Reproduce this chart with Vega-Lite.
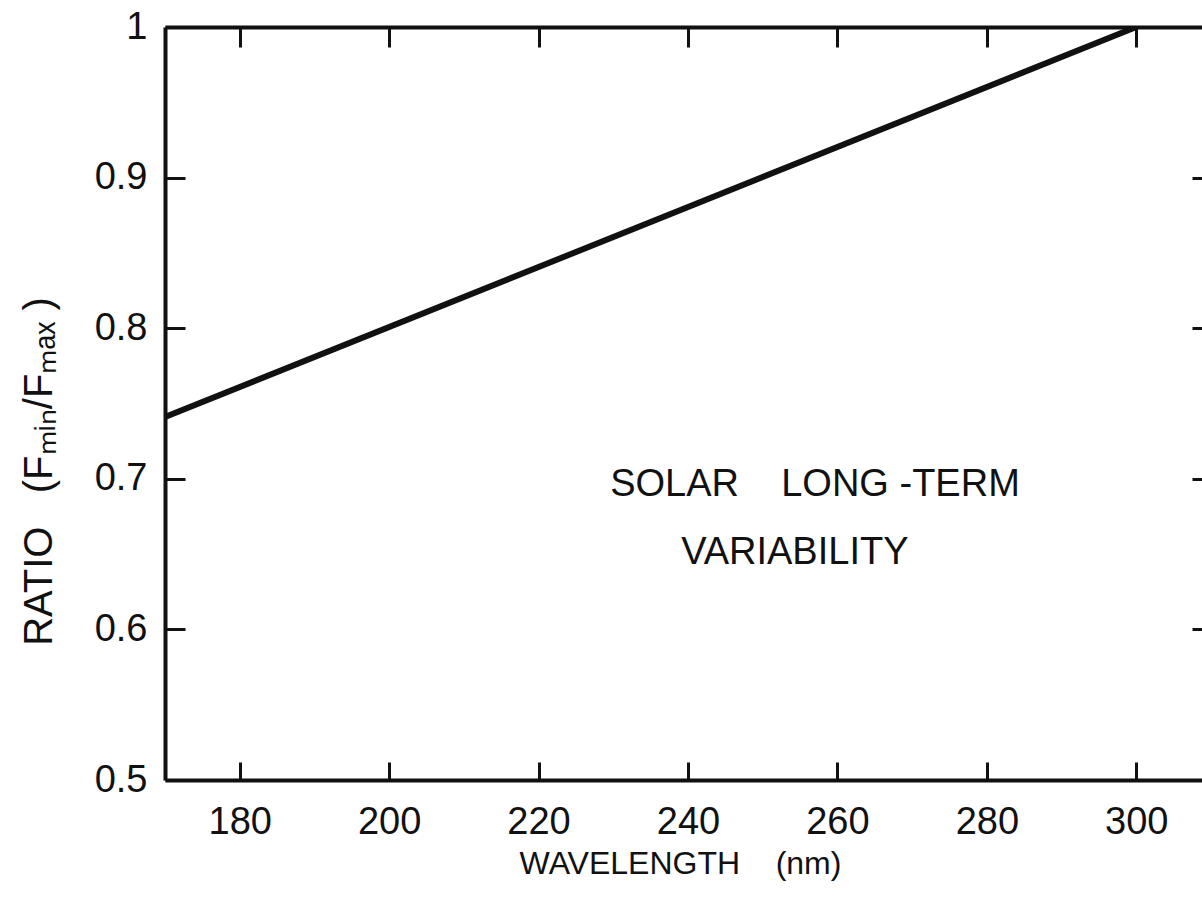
{
  "$schema": "https://vega.github.io/schema/vega-lite/v6.json",
  "width": 1037,
  "height": 753,
  "autosize": "none",
  "padding": {"left": 165, "top": 27, "right": 0, "bottom": 130},
  "background": "white",
  "config": {"view": {"stroke": null}, "font": "Liberation Sans"},
  "layer": [
    {
      "data": {"values": [{"wavelength": 170, "ratio": 0.741}, {"wavelength": 300, "ratio": 1.0}]},
      "mark": {"type": "line", "color": "#111", "strokeWidth": 6, "clip": true},
      "encoding": {
        "x": {
          "field": "wavelength", "type": "quantitative",
          "scale": {"domain": [170, 308.8], "nice": false, "zero": false},
          "axis": {
            "orient": "bottom", "values": [180, 200, 220, 240, 260, 280, 300], "grid": false,
            "domainWidth": 4, "domainColor": "#111", "tickSize": -18, "tickWidth": 3, "tickColor": "#111",
            "labelFontSize": 38, "labelColor": "#111", "labelPadding": 41, "labelFont": "Liberation Sans",
            "title": "WAVELENGTH\u00a0\u00a0\u00a0\u00a0(nm)", "titleFontSize": 32, "titleFontWeight": "normal", "titleColor": "#111",
            "titleFont": "Liberation Sans", "titleX": 515, "titleY": 83, "titleBaseline": "middle", "titleAlign": "center"
          }
        },
        "y": {
          "field": "ratio", "type": "quantitative",
          "scale": {"domain": [0.5, 1.0], "nice": false, "zero": false},
          "axis": {
            "orient": "left", "values": [0.5, 0.6, 0.7, 0.8, 0.9, 1.0], "grid": false,
            "labelExpr": "datum.value == 1 ? '1' : format(datum.value, '.1f')",
            "domainWidth": 4, "domainColor": "#111", "tickSize": -20, "tickWidth": 3, "tickColor": "#111",
            "labelFontSize": 38, "labelColor": "#111", "labelPadding": 38, "labelFont": "Liberation Sans",
            "title": "RATIO\u00a0\u00a0\u00a0(Fₘᵢₙ/Fₘₐₓ\u00a0)", "titleFontSize": 40, "titleFontWeight": "normal", "titleColor": "#111",
            "titleFont": "Liberation Sans", "titleX": -126, "titleY": 444, "titleAngle": -90,
            "titleBaseline": "middle", "titleAlign": "center"
          }
        }
      }
    },
    {
      "data": {"values": [
        {"wavelength": 257, "ratio": 0.696, "label": "SOLAR\u00a0\u00a0\u00a0\u00a0LONG\u00a0-TERM"},
        {"wavelength": 254.3, "ratio": 0.651, "label": "VARIABILITY"}
      ]},
      "mark": {"type": "text", "fontSize": 38, "font": "Liberation Sans", "color": "#111", "align": "center", "baseline": "middle"},
      "encoding": {
        "x": {
          "field": "wavelength", "type": "quantitative",
          "scale": {"domain": [170, 308.8], "nice": false, "zero": false},
          "axis": {
            "orient": "top", "values": [180, 200, 220, 240, 260, 280, 300], "grid": false, "labels": false, "title": null,
            "domainWidth": 4, "domainColor": "#111", "tickSize": -20, "tickWidth": 3, "tickColor": "#111"
          }
        },
        "y": {
          "field": "ratio", "type": "quantitative",
          "scale": {"domain": [0.5, 1.0], "nice": false, "zero": false},
          "axis": {
            "orient": "right", "values": [0.6, 0.7, 0.8, 0.9], "grid": false, "labels": false, "title": null,
            "domain": false, "tickSize": -10, "tickWidth": 3, "tickColor": "#111"
          }
        },
        "text": {"field": "label"}
      }
    }
  ],
  "resolve": {"scale": {"x": "independent", "y": "independent"}}
}
